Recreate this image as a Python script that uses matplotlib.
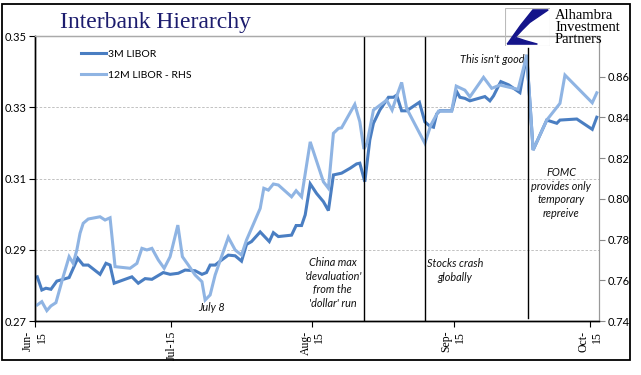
import numpy as np
import matplotlib
matplotlib.use("Agg")
import matplotlib.pyplot as plt
import matplotlib.dates as mdates
from matplotlib.patches import Rectangle, Polygon
from datetime import datetime

# ---- data (days after 1 Jun 2015, rate %) ----
start = datetime(2015, 6, 1)

m3_days = [0.5, 1.5, 2.4, 3.5, 4.8, 6.2, 7.5, 9.4, 10.6, 11.7, 14.3, 15.6, 16.5, 17.4,
           21.3, 22.7, 24.2, 25.7, 28.2, 29.7, 31.5, 33.0, 35.2, 36.7, 37.7, 38.5,
           39.6, 41.0, 42.5, 44.0, 45.4, 46.5, 47.6, 49.5, 51.5, 52.4, 53.5, 56.4,
           57.4, 58.6, 59.4, 60.5, 61.9, 63.4, 64.5, 65.6, 67.4, 69.3, 70.7, 71.4,
           72.5, 73.6, 74.4, 75.8, 77.7, 78.8, 79.5, 80.6, 81.7, 84.5, 85.7, 86.8,
           87.6, 88.3, 89.0, 91.6, 92.7, 93.4, 94.5, 95.6, 98.9, 100.0, 100.8,
           101.9, 102.4, 104.1, 106.6, 108.1, 109.5, 112.5, 114.7, 115.4, 119.1,
           122.5, 123.5]
m3_vals = [0.2824, 0.2787, 0.2792, 0.2789, 0.2812, 0.2817, 0.2822, 0.2876, 0.2857, 0.2857,
           0.2831, 0.2862, 0.2857, 0.2806, 0.2824, 0.2806, 0.2819, 0.2817, 0.2836, 0.2831,
           0.2834, 0.2843, 0.2841, 0.2831, 0.2836, 0.2857, 0.2857, 0.2871, 0.2885, 0.2883,
           0.2868, 0.2915, 0.2923, 0.2950, 0.2923, 0.2948, 0.2937, 0.2941, 0.2968, 0.2968,
           0.2998, 0.3085, 0.3058, 0.3035, 0.3010, 0.3110, 0.3115, 0.3129, 0.3141, 0.3143,
           0.3091, 0.3208, 0.3255, 0.3292, 0.3328, 0.3328, 0.3334, 0.3290, 0.3290, 0.3314,
           0.3259, 0.3247, 0.3244, 0.3281, 0.3290, 0.3290, 0.3344, 0.3328, 0.3325, 0.3318,
           0.3330, 0.3318, 0.3332, 0.3360, 0.3372, 0.3363, 0.3341, 0.3447, 0.3180, 0.3264,
           0.3255, 0.3264, 0.3267, 0.3238, 0.3272]

m12_days = [0.5, 1.5, 2.6, 3.5, 4.6, 6.2, 7.5, 8.4, 9.2, 9.9, 10.6, 11.7, 14.3, 15.4,
            16.5, 17.6, 20.9, 22.4, 23.5, 24.6, 25.7, 27.1, 28.4, 29.7, 31.4, 32.4,
            33.7, 35.2, 36.7, 37.4, 38.5, 39.6, 41.0, 42.5, 44.0, 45.4, 46.5, 48.4,
            49.5, 50.3, 51.3, 52.4, 53.5, 56.4, 57.4, 58.6, 60.5, 63.4, 64.5, 65.6,
            66.7, 67.4, 70.3, 71.4, 72.3, 73.0, 74.4, 77.3, 78.5, 79.6, 80.6, 81.7,
            85.7, 87.0, 88.7, 91.6, 92.6, 94.5, 95.6, 98.6, 100.4, 102.2, 106.2,
            108.1, 109.5, 112.5, 115.4, 116.5, 122.5, 123.5]
m12_vals = [0.7479, 0.7495, 0.7451, 0.7474, 0.7490, 0.7618, 0.7716, 0.7683, 0.7749, 0.7831,
            0.7880, 0.7901, 0.7912, 0.7896, 0.7907, 0.7667, 0.7659, 0.7683, 0.7757, 0.7749,
            0.7757, 0.7700, 0.7659, 0.7716, 0.7871, 0.7716, 0.7675, 0.7626, 0.7593, 0.7503,
            0.7528, 0.7626, 0.7716, 0.7811, 0.7749, 0.7724, 0.7798, 0.7896, 0.7953, 0.8052,
            0.8043, 0.8073, 0.8068, 0.8010, 0.8040, 0.8010, 0.8280, 0.8084, 0.8052, 0.8322,
            0.8346, 0.8349, 0.8464, 0.8379, 0.8245, 0.8275, 0.8436, 0.8485, 0.8436, 0.8510,
            0.8572, 0.8444, 0.8273, 0.8362, 0.8431, 0.8431, 0.8554, 0.8534, 0.8501, 0.8597,
            0.8543, 0.8559, 0.8538, 0.8706, 0.8240, 0.8387, 0.8469, 0.8608, 0.8472, 0.8521]

event_days = [72.3, 85.7, 108.4]   # China devaluation, stocks crash, FOMC
month_ticks = [datetime(2015, 6, 1), datetime(2015, 7, 1), datetime(2015, 8, 1),
               datetime(2015, 9, 1), datetime(2015, 10, 1)]
month_labels = ["Jun-\n15", "Jul-15", "Aug-\n15", "Sep-\n15", "Oct-\n15"]

left_ticks = [0.27, 0.29, 0.31, 0.33, 0.35]
right_ticks = [0.74, 0.76, 0.78, 0.80, 0.82, 0.84, 0.86]

C3M = "#4a7ec2"
C12M = "#8fb4e3"

plt.rcParams['font.family'] = ['Lato', 'DejaVu Sans']

t0 = mdates.date2num(start)
x3 = t0 + np.array(m3_days)
x12 = t0 + np.array(m12_days)

fig = plt.figure(figsize=(6.41, 3.75), dpi=100)
ax = fig.add_axes([0.0546, 0.144, 0.880, 0.760])
ax2 = ax.twinx()

l1, = ax.plot(x3, m3_vals, color=C3M, lw=2.2, solid_joinstyle='miter', label="3M LIBOR")
l2, = ax2.plot(x12, m12_vals, color=C12M, lw=2.2, solid_joinstyle='miter', label="12M LIBOR - RHS")

ax.set_ylim(0.27, 0.35)
ax2.set_ylim(0.74, 0.88)
ax.set_xlim(t0, t0 + 124)
ax.set_yticks(left_ticks)
ax.set_yticklabels([f"{v:.2f}" for v in left_ticks])
ax2.set_yticks(right_ticks)
ax2.set_yticklabels([f"{v:.2f}" for v in right_ticks])

ax.set_xticks(mdates.date2num(month_ticks))
ax.set_xticklabels(month_labels, rotation=90, family='Liberation Serif', fontsize=8.5)
for lbl in ax.get_xticklabels():
    lbl.set_multialignment('right')

ax.tick_params(axis='y', labelsize=8, length=4, width=0.8, pad=2, color='black')
ax.tick_params(axis='x', length=4, width=0.8, pad=3)
ax2.tick_params(axis='y', labelsize=8, length=4, width=0.8, pad=2, color='#888888')

ax.yaxis.grid(True, color='#b8b8b8', lw=0.6, ls=(0, (3, 2)))
ax.set_axisbelow(True)

for a in (ax, ax2):
    a.spines['top'].set_color('#aaaaaa')
    a.spines['top'].set_linewidth(0.9)
    a.spines['right'].set_color('#999999')
    a.spines['left'].set_color('black')
    a.spines['bottom'].set_color('black')
    a.spines['left'].set_linewidth(1.0)
    a.spines['bottom'].set_linewidth(1.0)

# event lines
ax2.axvline(t0 + event_days[0], color='black', lw=1.0)
ax2.axvline(t0 + event_days[1], color='black', lw=1.0)
ax2.axvline(t0 + event_days[2], ymin=0.01, ymax=0.958, color='black', lw=1.0)

# legend
ax2.legend([l1, l2], ["3M LIBOR", "12M LIBOR - RHS"], loc='upper left',
           bbox_to_anchor=(0.065, 0.985), frameon=False, fontsize=7.5,
           handlelength=2.4, handletextpad=0.2, labelspacing=1.1)

# annotations
note = dict(transform=ax.transAxes, fontsize=7.8, style='italic', color='#111111')
ax.text(0.868, 0.919, "This isn't good", ha='right', va='center', **note)
ax.text(0.933, 0.449, "FOMC\nprovides only\ntemporary\nrepreive", ha='center', va='center',
        linespacing=1.3, **note)
ax.text(0.745, 0.177, "Stocks crash\nglobally", ha='center', va='center', linespacing=1.3, **note)
ax.text(0.528, 0.133, "China max\n'devaluation'\nfrom the\n'dollar' run", ha='center',
        va='center', linespacing=1.3, **note)
ax.text(0.313, 0.049, "July 8", ha='center', va='center', **note)

# title
fig.text(0.094, 0.941, "Interbank Hierarchy", family='Liberation Serif', fontsize=17,
         color='#1c1c6e', ha='left', va='center')

# logo
lax = fig.add_axes([505 / 641, 1 - 46 / 375, 45 / 641, 38 / 375])
lax.set_xlim(0, 1)
lax.set_ylim(0, 1)
lax.axis('off')
lax.add_patch(Rectangle((0.01, 0.01), 0.98, 0.98, fill=False, ec='#bbbbbb', lw=0.8))
lax.add_patch(Polygon([(0.62, 0.95), (0.96, 0.95), (0.55, 0.62), (0.38, 0.42), (0.27, 0.28),
                       (0.05, 0.05), (0.20, 0.30), (0.35, 0.55)], color='#14148a'))
lax.add_patch(Polygon([(0.05, 0.05), (0.72, 0.05), (0.45, 0.14), (0.25, 0.22)], color='#14148a'))
for i, w in enumerate(["Alhambra", "Investment", "Partners"]):
    fig.text(555 / 641, 1 - (19 + i * 12) / 375, w, family='Liberation Serif',
             fontsize=10.5, color='black', ha='left', va='baseline')

# outer frame
fig.patches.append(Rectangle((2 / 641, 1 - 360 / 375), 628 / 641, 356 / 375, fill=False,
                             ec='black', lw=1.3, transform=fig.transFigure, figure=fig))

fig.savefig("out.png", dpi=100)
